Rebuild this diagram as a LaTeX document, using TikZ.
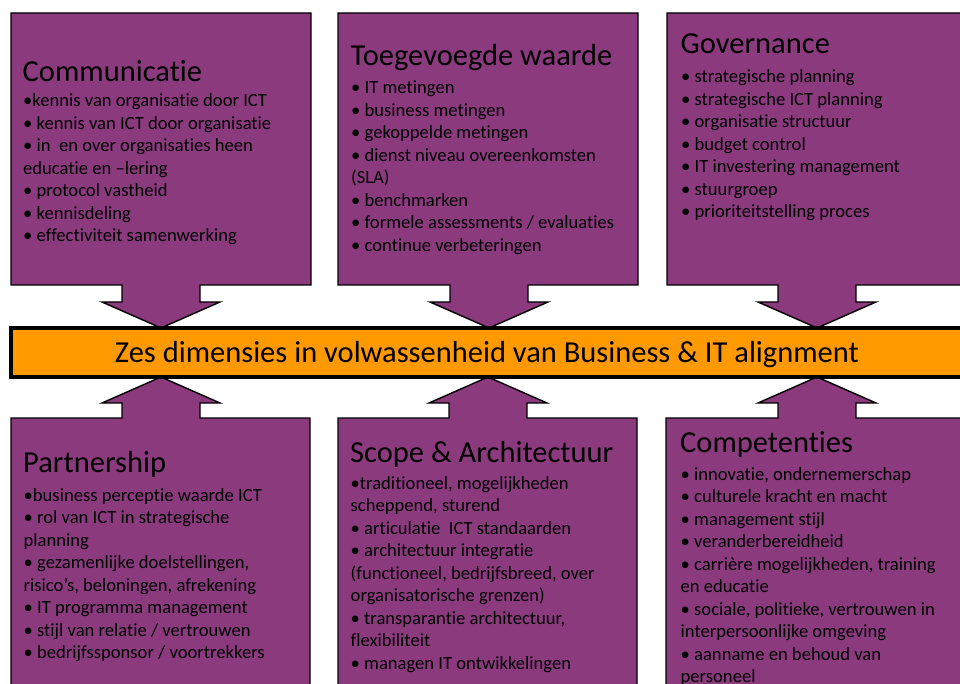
\documentclass[tikz,border=0pt]{standalone}
\usepackage{fontspec}
\setmainfont{Carlito}[Ligatures=NoCommon]
\usepackage{xcolor}
\usepackage{tikz}

\definecolor{dimpurple}{RGB}{139,58,126}
\definecolor{dimorange}{RGB}{255,153,0}

\newcommand{\dimitems}[1]{\begin{tabular}[t]{@{}l@{}}#1\end{tabular}}

\tikzset{
	callout/.style={draw=black,line width=1.4pt,fill=dimpurple,line join=miter},
	dimtitle/.style={inner sep=0pt,anchor=base west,font=\fontsize{30.5}{36}\selectfont},
	dimlist/.style={inner sep=0pt,anchor=base west,font=\fontsize{18.6}{22.5}\selectfont},
	zesbar/.style={draw=black,line width=4.5pt,fill=dimorange}
}

\begin{document}
\begin{tikzpicture}[x=1pt,y=-1pt]
			\clip (0,0) rectangle (960,684);
			% top callouts, arrow pointing down to the bar
			\foreach \cx/\lx/\rx in {161/11/311,489/338/638,817/667/980}
				\draw[callout] (\lx,13) -- (\rx,13) -- (\rx,285) -- (\cx+39,285) -- (\cx+39,302) -- (\cx+59,302)
					-- (\cx,328) -- (\cx-59,302) -- (\cx-39,302) -- (\cx-39,285) -- (\lx,285) -- cycle;
			% bottom callouts, arrow pointing up to the bar
			\foreach \cx/\lx/\rx in {161/11/310,488/338/637,817/666/980}
				\draw[callout] (\lx,700) -- (\rx,700) -- (\rx,418) -- (\cx+39,418) -- (\cx+39,403) -- (\cx+59,403)
					-- (\cx,377) -- (\cx-59,403) -- (\cx-39,403) -- (\cx-39,418) -- (\lx,418) -- cycle;
			\draw[zesbar] (11,328) rectangle (963,377);
			\node[inner sep=0pt,anchor=base,font=\fontsize{30.5}{36}\selectfont] (zes) at (487,362)
				{Zes dimensies in volwassenheid van Business \& IT alignment};

			\node[dimtitle] (comm) at (22.5,82) {Communicatie};
			\node[dimlist] (commlist) at (23,107) {\dimitems{•kennis van organisatie door ICT \\
				• kennis van ICT door organisatie \\
				• in \ en over organisaties heen \\
				educatie en –lering \\
				• protocol vastheid \\
				• kennisdeling \\
				• effectiviteit samenwerking}};

			\node[dimtitle] (waarde) at (350.5,66) {Toegevoegde waarde};
			\node[dimlist] (waardelist) at (351,94) {\dimitems{• IT metingen \\
				• business metingen \\
				• gekoppelde metingen \\
				• dienst niveau overeenkomsten \\
				(SLA) \\
				• benchmarken \\
				• formele assessments / evaluaties \\
				• continue verbeteringen}};

			\node[dimtitle] (gov) at (680.5,54) {Governance};
			\node[dimlist] (govlist) at (681,83) {\dimitems{• strategische planning \\
				• strategische ICT planning \\
				• organisatie structuur \\
				• budget control \\
				• IT investering management \\
				• stuurgroep \\
				• prioriteitstelling proces}};

			\node[dimtitle] (partner) at (23,472) {Partnership};
			\node[dimlist] (partnerlist) at (23.5,501) {\dimitems{•business perceptie waarde ICT \\
				• rol van ICT in strategische \\
				planning \\
				• gezamenlijke doelstellingen, \\
				risico’s, beloningen, afrekening \\
				• IT programma management \\
				• stijl van relatie / vertrouwen \\
				• bedrijfssponsor / voortrekkers}};

			\node[dimtitle] (scope) at (350,462) {Scope \& Architectuur};
			\node[dimlist] (scopelist) at (350.5,489) {\dimitems{•traditioneel, mogelijkheden \\
				scheppend, sturend \\
				• articulatie \ ICT standaarden \\
				• architectuur integratie \\
				(functioneel, bedrijfsbreed, over \\
				organisatorische grenzen) \\
				• transparantie architectuur, \\
				flexibiliteit \\
				• managen IT ontwikkelingen}};

			\node[dimtitle] (comp) at (680,452) {Competenties};
			\node[dimlist] (complist) at (680.5,480) {\dimitems{• innovatie, ondernemerschap \\
				• culturele kracht en macht \\
				• management stijl \\
				• veranderbereidheid \\
				• carrière mogelijkheden, training \\
				en educatie \\
				• sociale, politieke, vertrouwen in \\
				interpersoonlijke omgeving \\
				• aanname en behoud van \\
				personeel}};
		\end{tikzpicture}
\end{document}
